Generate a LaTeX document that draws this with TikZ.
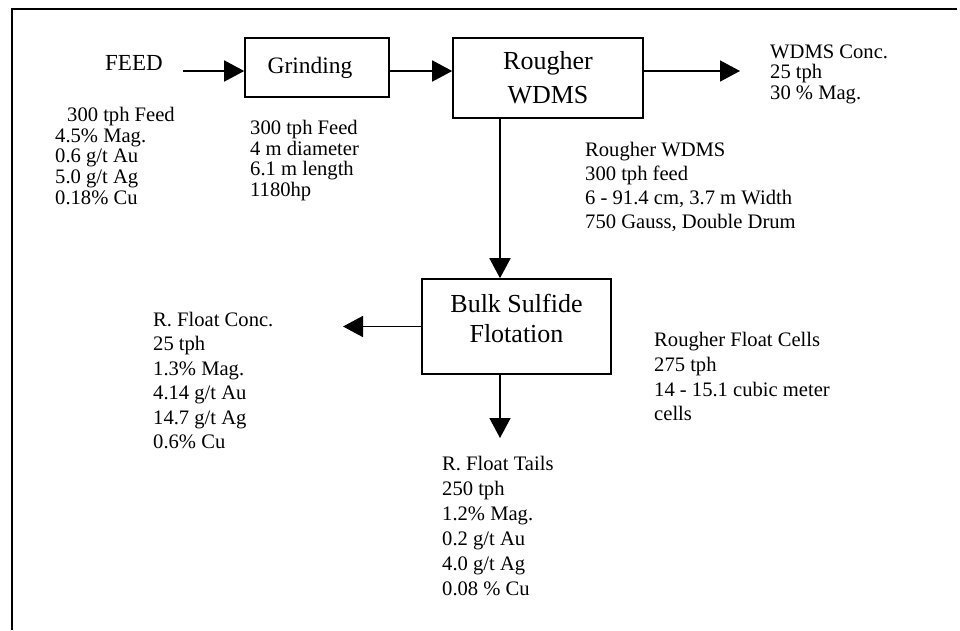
\documentclass[tikz,border=0pt]{standalone}
\usepackage{fontspec}
\setmainfont{Liberation Serif}
\usetikzlibrary{arrows.meta}
\newcommand\txtblock[2]{\vtop{\baselineskip=#1pt\relax\lineskiplimit=-20pt\relax #2}}
\begin{document}
\begin{tikzpicture}[x=1pt,y=-1pt,
  box/.style={draw,line width=1.6pt,inner sep=0pt,align=center},
  info/.style={anchor=base west,inner sep=0pt,font=\fontsize{20.6}{24}\selectfont},
  arr/.style={line width=1.6pt,-{Triangle[length=20pt,width=21pt]}}]
\useasboundingbox (0,0) rectangle (960,630);
% frame
\draw[line width=1.8pt] (12,630) -- (12,9) -- (957,9);
% helper coordinates
\coordinate (row) at (0,71);
\coordinate (col) at (500,0);
% process boxes
\node[box,minimum width=144pt,minimum height=59pt,font=\fontsize{23.5}{28}\selectfont]
  (grind) at (317,67.5) {Grinding\hspace*{14pt}};
\node[box,minimum width=190pt,minimum height=80pt,font=\fontsize{26}{34}\selectfont]
  (roug) at (548,78) {Rougher\\WDMS};
\node[box,minimum width=189pt,minimum height=95pt,text depth=17pt,font=\fontsize{26}{30}\selectfont]
  (bulk) at (516.5,326.5) {Bulk Sulfide\\Flotation};
% texts
\node[anchor=base west,inner sep=0pt,font=\fontsize{23}{28}\selectfont] (feed) at (105,70.7) {FEED};
\node[info] (feedinfo) at (55,121.7) {\txtblock{20.6}{\hbox{\hskip12pt 300 tph Feed}\hbox{4.5\% Mag.}\hbox{0.6 g/t Au}\hbox{5.0 g/t Ag}\hbox{0.18\% Cu}}};
\node[info] (grindinfo) at (250,134.3) {\txtblock{20.8}{\hbox{300 tph Feed}\hbox{4 m diameter}\hbox{6.1 m length}\hbox{1180hp}}};
\node[info] (conc) at (770,58.3) {\txtblock{20.6}{\hbox{WDMS Conc.}\hbox{25 tph}\hbox{30 \% Mag.}}};
\node[info] (rwinfo) at (585,156) {\txtblock{24.2}{\hbox{Rougher WDMS}\hbox{300 tph feed}\hbox{6 - 91.4 cm, 3.7 m Width}\hbox{750 Gauss, Double Drum}}};
\node[info] (rfc) at (153,326.5) {\txtblock{24.4}{\hbox{R. Float Conc.}\hbox{25 tph}\hbox{1.3\% Mag.}\hbox{4.14 g/t Au}\hbox{14.7 g/t Ag}\hbox{0.6\% Cu}}};
\node[info] (tails) at (442,470) {\txtblock{25}{\hbox{R. Float Tails}\hbox{250 tph}\hbox{1.2\% Mag.}\hbox{0.2 g/t Au}\hbox{4.0 g/t Ag}\hbox{0.08 \% Cu}}};
\node[info] (cells) at (654,346.7) {\txtblock{24.7}{\hbox{Rougher Float Cells}\hbox{275 tph}\hbox{14 - 15.1 cubic meter}\hbox{cells}}};
% free arrow ends
\coordinate (rfctip) at (343,326.5);
\coordinate (tailtip) at (500,438);
% connectors
\draw[arr] ([xshift=20pt]feed.east |- row) -- (grind.west |- row);
\draw[arr] (grind.east |- row) -- (roug.west |- row);
\draw[arr] (roug.east |- row) -- ([xshift=-30pt]conc.west |- row);
\draw[arr] (roug.south -| col) -- (bulk.north -| col);
\draw[arr] (bulk.west) -- (rfctip);
\draw[arr] (bulk.south -| col) -- (tailtip);
\end{tikzpicture}
\end{document}
